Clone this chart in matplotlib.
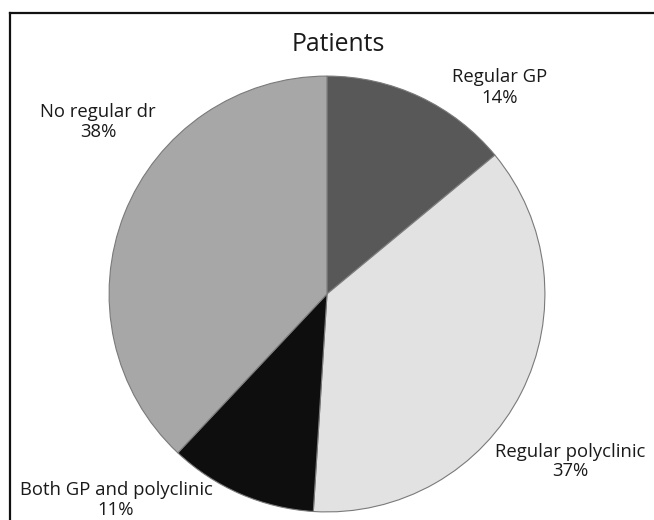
import matplotlib
matplotlib.use("Agg")
import matplotlib.pyplot as plt
from matplotlib.lines import Line2D

plt.rcParams['font.family'] = ['Open Sans', 'DejaVu Sans']

categories = ["Regular GP", "Regular polyclinic", "Both GP and polyclinic", "No regular dr"]
shares = [14, 37, 11, 38]
colors = ["#585858", "#e2e2e2", "#0e0e0e", "#a7a7a7"]
title = "Patients"

W, H = 654, 520
fig = plt.figure(figsize=(W / 100, H / 100), dpi=100)
fig.patch.set_facecolor("white")
renderer = fig.canvas.get_renderer()


def fitted_size(text, width_px, base=12.0):
    t = fig.text(0, 0, text, fontsize=base)
    w = t.get_window_extent(renderer=renderer).width
    t.remove()
    return base * width_px / w


# frame: top and left rules only
fig.add_artist(Line2D([10 / W, 1.0], [1 - 13 / H, 1 - 13 / H], color="#111111", lw=1.6,
                      transform=fig.transFigure))
fig.add_artist(Line2D([10 / W, 10 / W], [0.0, 1 - 13 / H], color="#111111", lw=1.6,
                      transform=fig.transFigure))

cx, cy, r = 327, 294, 219
ax = fig.add_axes([(cx - r) / W, (H - cy - r) / H, 2 * r / W, 2 * r / H])
ax.pie(shares, colors=colors, startangle=90, counterclock=False, radius=1.0,
       wedgeprops=dict(edgecolor="#7a7a7a", linewidth=0.8))
ax.set_xlim(-1.005, 1.005)
ax.set_ylim(-1.005, 1.005)
ax.set_aspect("equal")
ax.axis("off")

title_size = fitted_size(title, 93)
fig.text(338 / W, 1 - 51 / H, title, ha="center", va="baseline",
         fontsize=title_size, color="#1a1a1a")

label_size = 0.5 * (fitted_size("Regular polyclinic", 150) +
                    fitted_size("Both GP and polyclinic", 192))

# (centre x, first baseline, second baseline) in pixels from the top-left
label_pos = [(500, 82, 103), (570, 457, 476), (116, 495, 515), (98, 117, 137)]
for name, val, (px, b1, b2) in zip(categories, shares, label_pos):
    fig.text(px / W, 1 - b1 / H, name, ha="center", va="baseline",
             fontsize=label_size, color="#1a1a1a")
    fig.text(px / W, 1 - b2 / H, f"{val}%", ha="center", va="baseline",
             fontsize=label_size, color="#1a1a1a")

fig.savefig("out.png", dpi=100, facecolor="white")
